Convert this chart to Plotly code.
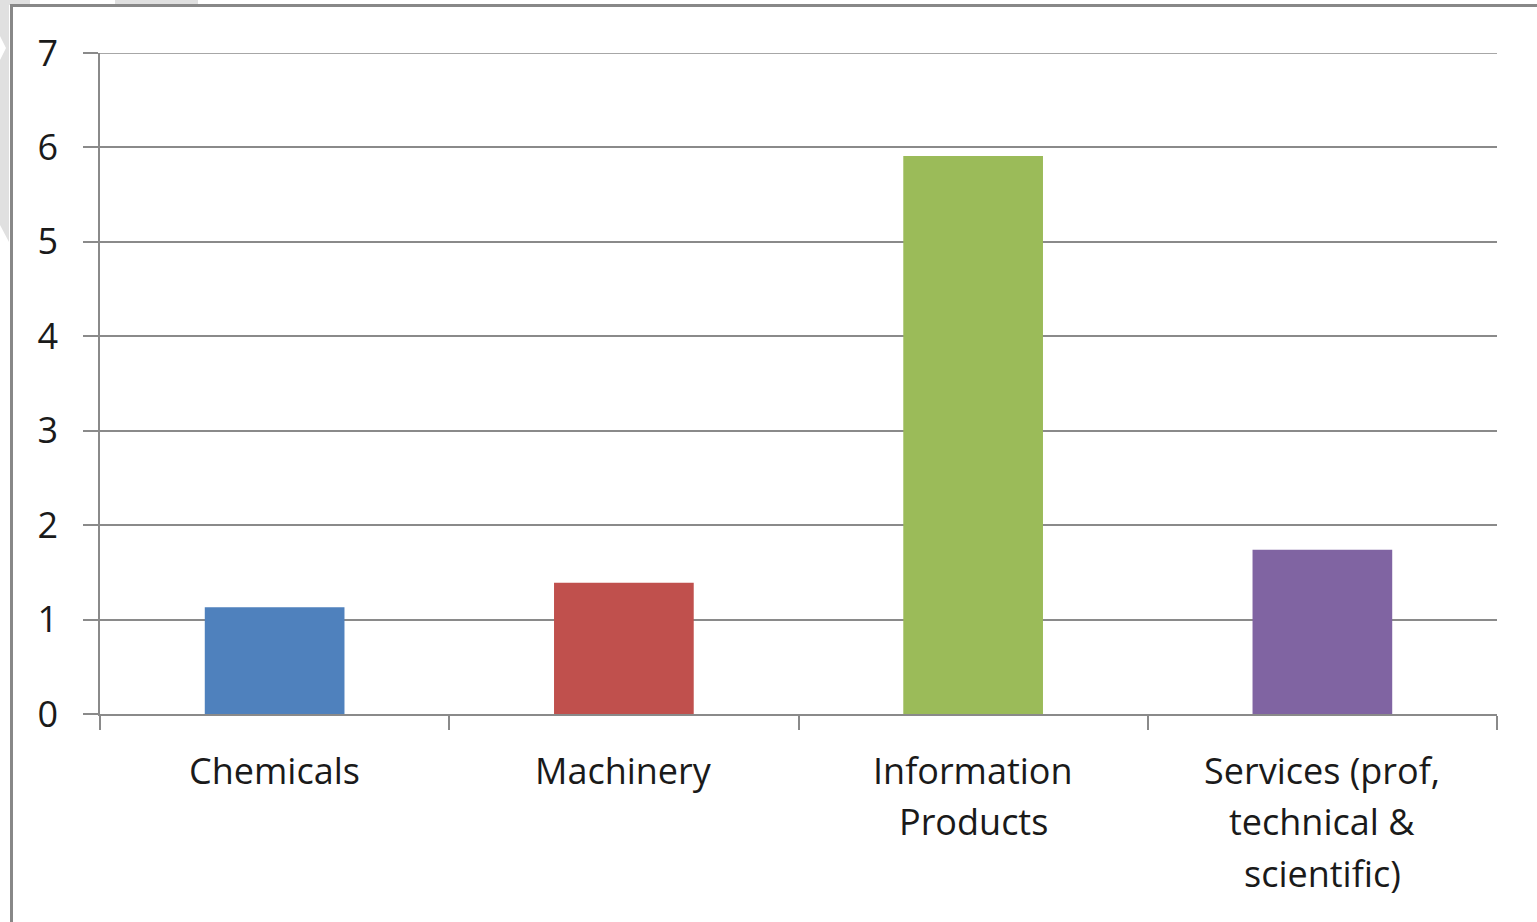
import plotly.graph_objects as go

categories = ["Chemicals", "Machinery", "Information<br>Products", "Services (prof,<br>technical &<br>scientific)"]
values = [1.13, 1.39, 5.91, 1.74]
colors = ["#4F81BD", "#C0504D", "#9BBB59", "#8064A2"]
y_ticks = [0, 1, 2, 3, 4, 5, 6, 7]

W, H = 1537, 922
L, R, T, B = 100, 40, 53, 208
PW, PH = W - L - R, H - T - B

def px(x):
    return (x - L) / PW

def py(y):
    return (H - B - y) / PH

FONT = "Open Sans"
FS = 36
GRAY = "#8a8a8a"

fig = go.Figure()
fig.add_trace(go.Bar(x=categories, y=values, marker=dict(color=colors, line=dict(width=0)),
                     showlegend=False))

annotations = []
for i, lab in enumerate(categories):
    for j, line in enumerate(lab.split("<br>")):
        annotations.append(dict(x=lab, xref="x", y=0, yref="paper", text=line, showarrow=False,
                                xanchor="center", yanchor="middle", yshift=-(56 + 51.5 * j),
                                font=dict(family=FONT, size=FS, color="#1a1a1a")))

shapes = [
    # light gray artifacts
    dict(type="path", xref="paper", yref="paper", layer="below",
         path=f"M {px(0)},{py(0)} L {px(9)},{py(0)} L {px(9)},{py(242)} L {px(0)},{py(225)} L {px(0)},{py(60)} L {px(6)},{py(48)} L {px(0)},{py(36)} Z",
         fillcolor="#e0e0e0", line=dict(width=0)),
    dict(type="rect", xref="paper", yref="paper", layer="below",
         x0=px(0), x1=px(30), y0=py(0), y1=py(5), fillcolor="#e0e0e0", line=dict(width=0)),
    dict(type="rect", xref="paper", yref="paper", layer="below",
         x0=px(115), x1=px(198), y0=py(0), y1=py(5), fillcolor="#e0e0e0", line=dict(width=0)),
    # frame
    dict(type="line", xref="paper", yref="paper", x0=px(11.5), x1=px(11.5), y0=py(5), y1=py(922),
         line=dict(color="#888888", width=3)),
    dict(type="line", xref="paper", yref="paper", x0=px(10), x1=px(1537), y0=py(5.5), y1=py(5.5),
         line=dict(color="#888888", width=3)),
    # top gridline at max tick
    dict(type="line", xref="paper", yref="y", x0=0, x1=1, y0=max(y_ticks), y1=max(y_ticks),
         line=dict(color=GRAY, width=1.5)),
]

fig.update_layout(
    width=W, height=H,
    margin=dict(l=L, r=R, t=T, b=B),
    paper_bgcolor="white", plot_bgcolor="white",
    bargap=0.6,
    font=dict(family=FONT, size=FS, color="#1a1a1a"),
    annotations=annotations,
    shapes=shapes,
    xaxis=dict(type="category", range=[-0.5, len(categories) - 0.5], showticklabels=False,
               tickson="boundaries", ticks="outside", ticklen=14,
               tickwidth=1.5, tickcolor=GRAY, showline=True, linecolor=GRAY, linewidth=1.5,
               showgrid=False, zeroline=False, fixedrange=True),
    yaxis=dict(range=[0, 7], tickmode="array", tickvals=y_ticks, ticks="outside", ticklen=15,
               tickwidth=1.5, tickcolor=GRAY, showline=True, linecolor=GRAY, linewidth=1.5,
               showgrid=True, gridcolor=GRAY, gridwidth=1.5, zeroline=False,
               ticklabelstandoff=18, tickfont=dict(family=FONT, size=FS, color="#1a1a1a"), fixedrange=True),
)

fig.write_html("out.html")
